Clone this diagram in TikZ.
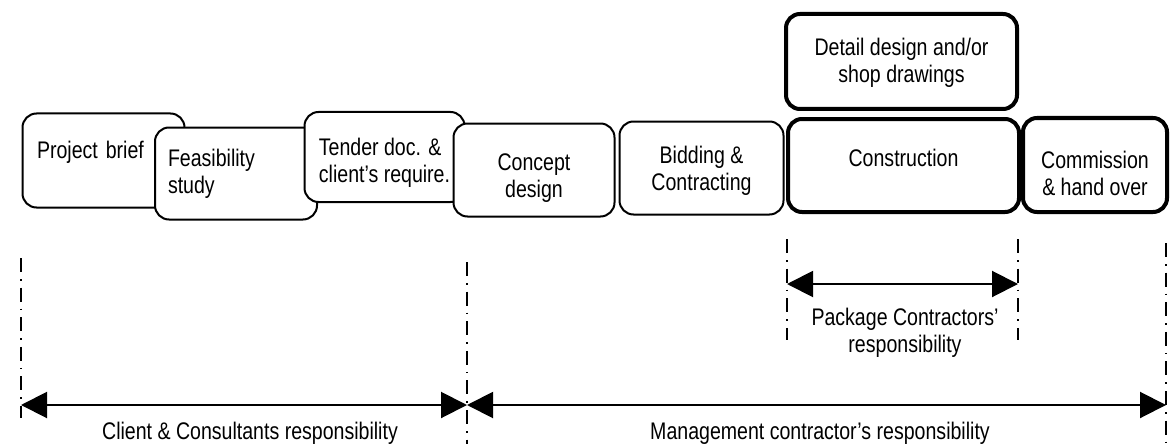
\documentclass[tikz,border=0pt]{standalone}
\usepackage{fontspec}
\setmainfont[FakeStretch=0.815]{Liberation Sans}
\usetikzlibrary{positioning, arrows.meta}

\tikzset{
    stage/.style={draw, fill=white, rounded corners=7pt, line width=1pt, inner sep=0pt,
        align=center, font=\fontsize{12}{13.5}\selectfont},
    mainstage/.style={stage, line width=2pt},
    divider/.style={line width=0.8pt, dash pattern=on 7pt off 3.5pt on 0.8pt off 3.5pt},
    span/.style={{Triangle[length=13pt,width=13pt]}-{Triangle[length=13pt,width=13pt]}, line width=1pt},
    note/.style={inner sep=0pt, align=center, font=\fontsize{12}{13.5}\selectfont}
}

\begin{document}
\begin{tikzpicture}[x=0.5pt, y=-0.5pt]

    \useasboundingbox (0,0) rectangle (1171,444);

    % project stages, each box laid over the one before
    \node[stage, minimum width=81pt, minimum height=47pt, text width=66.5pt, align=left, text depth=11pt] (brief) at (103.5,160.5) {Project brief};
    \node[stage, minimum width=81pt, minimum height=46pt, text width=68pt, align=left] (feas) at (236,173.5) {Feasibility\\study};
    \node[stage, minimum width=80pt, minimum height=45pt, align=left, text height=27.6pt] (tender) at (384.5,157) {Tender doc. \&\\client’s require.};
    \node[stage, minimum width=80.5pt, minimum height=46.5pt, text height=29.6pt] (concept) at (534,170) {Concept\\design};
    \node[stage, minimum width=82pt, minimum height=46.5pt, text height=24.6pt] (bid) at (701.5,168) {Bidding \&\\Contracting};
    \node[mainstage, minimum width=115.5pt, minimum height=46.5pt, text depth=7.3pt] (constr) at (903.5,165.5) {Construction};
    \node[mainstage, minimum width=72pt, minimum height=47pt, text height=30.6pt] (comm) at (1095,165) {Commission\\\& hand over};
    \node[mainstage, minimum width=115.5pt, minimum height=47.5pt, text height=23.1pt] (detail) at (901.5,61.5) {Detail design and/or\\shop drawings};

    % responsibility limits
    \coordinate (d0t) at (21,258);   \coordinate (d0b) at (21,418);
    \coordinate (d1t) at (467,262);  \coordinate (d1b) at (467,444);
    \coordinate (d2t) at (787,239);  \coordinate (d2b) at (787,340);
    \coordinate (d3t) at (1018,239); \coordinate (d3b) at (1018,340);
    \coordinate (d4t) at (1166,243); \coordinate (d4b) at (1166,444);

    \draw[divider] (d0t) -- (d0b);
    \draw[divider] (d1t) -- (d1b);
    \draw[divider] (d2t) -- (d2b);
    \draw[divider] (d3t) -- (d3b);
    \draw[divider] (d4t) -- (d4b);

    \coordinate (a0) at (21,405);
    \coordinate (a1) at (467,405);
    \coordinate (a2) at (1166,405);
    \coordinate (p0) at (787,284);
    \coordinate (p1) at (1018,284);

    \draw[span] (p0) -- (p1);
    \draw[span] (a0) -- (a1);
    \draw[span] (a1) -- (a2);

    \node[note, anchor=north] (pkgresp) at (905,308) {Package Contractors’\\responsibility};
    \node[note, anchor=base] (clientresp) at (250,439) {Client \& Consultants responsibility};
    \node[note, anchor=base] (mcresp) at (820,439) {Management contractor’s responsibility};

\end{tikzpicture}
\end{document}
